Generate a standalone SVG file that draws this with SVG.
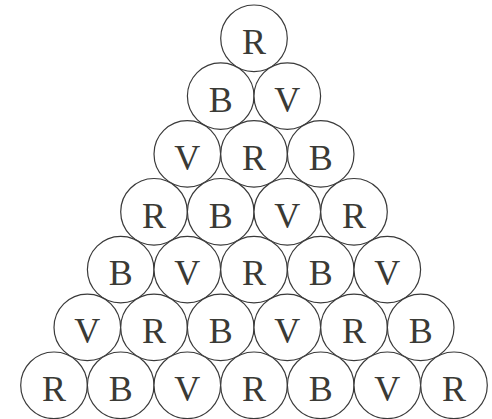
<svg xmlns="http://www.w3.org/2000/svg" width="492" height="419" viewBox="0 0 492 419">
<style>
.c{fill:#fff;stroke:#3a3a3a;stroke-width:1.2}
.t{font-family:"Liberation Serif",serif;font-size:36px;fill:#3a3a35;text-anchor:middle}
</style>
<rect width="492" height="419" fill="#fff"/>
<defs>
<g id="R"><circle class="c" r="33.3"/><text class="t" y="15.7">R</text></g>
<g id="B"><circle class="c" r="33.3"/><text class="t" y="15.7">B</text></g>
<g id="V"><circle class="c" r="33.3"/><text class="t" y="15.7">V</text></g>
</defs>
<g id="connectors"/>
<g id="n1"><circle class="c" cx="254" cy="38.3" r="33.3"/><text class="t" x="254" y="54">R</text></g>
<g id="n2"><circle class="c" cx="220.7" cy="96.1" r="33.3"/><text class="t" x="220.7" y="111.8">B</text></g>
<g id="n3"><circle class="c" cx="287.3" cy="96.1" r="33.3"/><text class="t" x="287.3" y="111.8">V</text></g>
<g id="n4"><circle class="c" cx="187.3" cy="153.9" r="33.3"/><text class="t" x="187.3" y="169.6">V</text></g>
<g id="n5"><circle class="c" cx="254" cy="153.9" r="33.3"/><text class="t" x="254" y="169.6">R</text></g>
<g id="n6"><circle class="c" cx="320.7" cy="153.9" r="33.3"/><text class="t" x="320.7" y="169.6">B</text></g>
<g id="n7"><circle class="c" cx="154" cy="211.8" r="33.3"/><text class="t" x="154" y="227.5">R</text></g>
<g id="n8"><circle class="c" cx="220.7" cy="211.8" r="33.3"/><text class="t" x="220.7" y="227.5">B</text></g>
<g id="n9"><circle class="c" cx="287.3" cy="211.8" r="33.3"/><text class="t" x="287.3" y="227.5">V</text></g>
<g id="n10"><circle class="c" cx="354" cy="211.8" r="33.3"/><text class="t" x="354" y="227.5">R</text></g>
<g id="n11"><circle class="c" cx="120.7" cy="269.6" r="33.3"/><text class="t" x="120.7" y="285.3">B</text></g>
<g id="n12"><circle class="c" cx="187.3" cy="269.6" r="33.3"/><text class="t" x="187.3" y="285.3">V</text></g>
<g id="n13"><circle class="c" cx="254" cy="269.6" r="33.3"/><text class="t" x="254" y="285.3">R</text></g>
<g id="n14"><circle class="c" cx="320.7" cy="269.6" r="33.3"/><text class="t" x="320.7" y="285.3">B</text></g>
<g id="n15"><circle class="c" cx="387.3" cy="269.6" r="33.3"/><text class="t" x="387.3" y="285.3">V</text></g>
<g id="n16"><circle class="c" cx="87.3" cy="327.4" r="33.3"/><text class="t" x="87.3" y="343.1">V</text></g>
<g id="n17"><circle class="c" cx="154" cy="327.4" r="33.3"/><text class="t" x="154" y="343.1">R</text></g>
<g id="n18"><circle class="c" cx="220.7" cy="327.4" r="33.3"/><text class="t" x="220.7" y="343.1">B</text></g>
<g id="n19"><circle class="c" cx="287.3" cy="327.4" r="33.3"/><text class="t" x="287.3" y="343.1">V</text></g>
<g id="n20"><circle class="c" cx="354" cy="327.4" r="33.3"/><text class="t" x="354" y="343.1">R</text></g>
<g id="n21"><circle class="c" cx="420.7" cy="327.4" r="33.3"/><text class="t" x="420.7" y="343.1">B</text></g>
<g id="n22"><circle class="c" cx="54" cy="385.3" r="33.3"/><text class="t" x="54" y="401">R</text></g>
<g id="n23"><circle class="c" cx="120.7" cy="385.3" r="33.3"/><text class="t" x="120.7" y="401">B</text></g>
<g id="n24"><circle class="c" cx="187.3" cy="385.3" r="33.3"/><text class="t" x="187.3" y="401">V</text></g>
<g id="n25"><circle class="c" cx="254" cy="385.3" r="33.3"/><text class="t" x="254" y="401">R</text></g>
<g id="n26"><circle class="c" cx="320.7" cy="385.3" r="33.3"/><text class="t" x="320.7" y="401">B</text></g>
<g id="n27"><circle class="c" cx="387.3" cy="385.3" r="33.3"/><text class="t" x="387.3" y="401">V</text></g>
<g id="n28"><circle class="c" cx="454" cy="385.3" r="33.3"/><text class="t" x="454" y="401">R</text></g>
</svg>
